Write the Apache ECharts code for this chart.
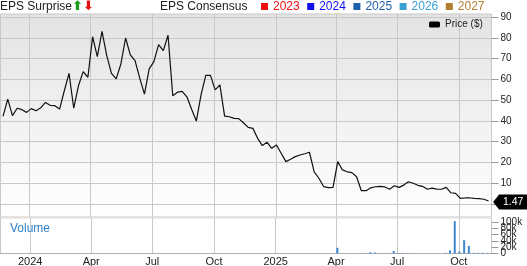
<!DOCTYPE html>
<html><head><meta charset="utf-8">
<script src="https://cdn.jsdelivr.net/npm/echarts@6/dist/echarts.min.js"></script>
<style>html,body{margin:0;padding:0;background:#fff}#c{width:527px;height:266px}</style>
</head><body><div id="c"></div>
<script>
// weekly closes, first week starting 2023-11-23
const startDate = [2023, 10, 23];
const prices = [
  42.2, 50.5, 42.5, 46.1, 45.4, 44.1, 45.9, 44.9, 46.3, 48.9,
  47.5, 47.3, 45.7, 54.5, 62.9, 46.1, 56.9, 63.7, 61.0, 80.5,
  70.9, 83.1, 71.4, 62.9, 60.2, 67.4, 79.9, 71.8, 69.0, 60.6,
  52.9, 65.0, 68.5, 76.7, 73.8, 81.2, 52.1, 53.8, 54.2, 51.6,
  45.6, 39.9, 52.5, 61.9, 61.9, 54.9, 57.3, 42.3, 42.0, 41.2,
  41.1, 39.1, 36.9, 36.4, 31.6, 28.1, 29.7, 26.8, 28.4, 24.4,
  20.4, 21.5, 22.8, 23.6, 24.2, 24.9, 15.5, 12.4, 8.4, 7.9,
  8.0, 20.4, 16.4, 15.5, 15.1, 13.1, 6.4, 6.4, 7.8, 8.3,
  8.5, 8.2, 7.1, 8.8, 8.0, 9.1, 10.7, 10.0, 9.0, 8.5,
  7.1, 7.6, 7.2, 7.1, 8.0, 5.4, 5.1, 2.7, 2.9, 2.9,
  2.7, 2.6, 2.3, 1.47
];
const volumes = [
  0,0,0,0,0,0,0,0,0,0,
  0,0,0,0,0,0,0,0,0,0,
  0,0,0,0,0,0,0,0,0,0,
  0,0,0,0,0,0,0,0,0,0,
  0,0,0,0,0,0,0,0,0,0,
  0,0,0,0,0,0,0,0,0,0,
  0,0,0,0,0,0,0,0,0,0,
  0,18000,0,0,0,0,1000,1000,4000,3000,
  0,1000,1000,8000,1500,1500,1000,0,0,0,
  0,0,0,0,2000,10000,102000,6000,42000,24000,
  2000,2000,2000,2000
];
const consensusYears = ['2023', '2024', '2025', '2026', '2027'];
const consensusColors = ['#f01010', '#1010f0', '#1c5fae', '#3a9fd3', '#b27d2e'];
const monthNames = ['Jan','Feb','Mar','Apr','May','Jun','Jul','Aug','Sep','Oct','Nov','Dec'];

const dates = prices.map((_, i) => new Date(startDate[0], startDate[1], startDate[2] + 7 * i).getTime());
const xMin = new Date(2023, 10, 18, 12).getTime();
const xMax = new Date(2025, 10, 17, 7).getTime();
const volMax = 112000;
const FONT = 'Liberation Sans, Arial, sans-serif';

const chart = echarts.init(document.getElementById('c'), null, {renderer: 'canvas'});

const titles = [
  {left: 0, top: 0, padding: 0,
   text: 'EPS Surprise{u|⬆}{d|⬇}',
   textStyle: {fontSize: 12, fontWeight: 'normal', color: '#222', fontFamily: FONT, lineHeight: 13,
     rich: {u: {color: '#1a9c1a', fontSize: 13, fontWeight: 'bold', fontFamily: 'DejaVu Sans', lineHeight: 13},
            d: {color: '#e01010', fontSize: 13, fontWeight: 'bold', fontFamily: 'DejaVu Sans', lineHeight: 13}}}},
  {left: 160, top: 0, padding: 0, text: 'EPS Consensus',
   textStyle: {fontSize: 12, fontWeight: 'normal', color: '#222', fontFamily: FONT, lineHeight: 13}},
  {left: 10, top: 222, padding: 0, text: 'Volume',
   textStyle: {fontSize: 12, fontWeight: 'normal', color: '#2f80c8', fontFamily: FONT, lineHeight: 14}}
];
consensusYears.forEach((y, i) => {
  titles.push({left: 261 + i * 46.2, top: 0, padding: 0, text: '{b|}{t|' + y + '}',
    textStyle: {fontSize: 12, fontWeight: 'normal', lineHeight: 13, fontFamily: FONT,
      rich: {b: {width: 7, height: 7, backgroundColor: consensusColors[i]},
             t: {color: consensusColors[i], fontSize: 12, fontWeight: 'normal', fontFamily: FONT, padding: [0, 0, 0, 5], lineHeight: 13}}}});
});

const timeLabel = v => { const d = new Date(v); return d.getMonth() === 0 ? String(d.getFullYear()) : monthNames[d.getMonth()]; };
const volLabel = v => v === 0 ? '0' : (v / 1000) + 'k';

const option = {
  animation: false,
  textStyle: {fontFamily: FONT},
  title: titles,
  legend: {data: ['Price ($)'], left: 429, top: 19.5, padding: 0, icon: 'roundRect', itemWidth: 11, itemHeight: 6,
    textStyle: {fontSize: 10, color: '#222', fontFamily: FONT}, itemStyle: {color: '#000'}},
  grid: [
    {left: 0, right: 35.5, top: 14, height: 203, show: true, borderColor: '#c8c8c8', borderWidth: 1,
     outerBoundsMode: 'none',
     backgroundColor: new echarts.graphic.LinearGradient(0, 0, 0, 1, [{offset: 0, color: '#e3e3e3'}, {offset: 1, color: '#ffffff'}])},
    {left: 0, right: 35.5, top: 17, height: 187, outerBoundsMode: 'none'},
    {left: 0, right: 35.5, top: 218, height: 35.5, show: true, borderColor: '#dedede', borderWidth: 1, outerBoundsMode: 'none'}
  ],
  xAxis: [
    {gridIndex: 0, type: 'time', min: xMin, max: xMax, splitNumber: 8,
     axisLine: {show: false}, axisTick: {show: false}, axisLabel: {show: false},
     splitLine: {show: true, lineStyle: {color: '#c8c8c8', width: 1}}},
    {gridIndex: 1, type: 'time', min: xMin, max: xMax, show: false, splitLine: {show: false}},
    {gridIndex: 2, type: 'time', min: xMin, max: xMax, splitNumber: 8,
     axisLine: {show: true, lineStyle: {color: '#b0b0b0'}}, axisTick: {show: false},
     axisLabel: {fontSize: 11, color: '#222', margin: 3, formatter: timeLabel, showMinLabel: false, showMaxLabel: false},
     splitLine: {show: true, lineStyle: {color: '#c8c8c8', width: 1}}}
  ],
  yAxis: [
    {gridIndex: 0, type: 'value', show: false, splitLine: {show: false}},
    {gridIndex: 1, type: 'value', position: 'right', min: 0, max: 90, interval: 10,
     axisLine: {show: false}, axisTick: {show: true, length: 7, lineStyle: {color: '#999'}},
     axisLabel: {fontSize: 10, color: '#222', margin: 9},
     splitLine: {show: true, lineStyle: {color: '#c8c8c8', width: 1}}},
    {gridIndex: 2, type: 'value', position: 'right', min: 0, max: volMax, interval: 20000,
     axisLine: {show: false}, axisTick: {show: true, length: 7, lineStyle: {color: '#999'}},
     axisLabel: {fontSize: 10, color: '#222', margin: 9, showMaxLabel: false, showMinLabel: false, hideOverlap: false,
       formatter: volLabel},
     splitLine: {show: false}},
    {gridIndex: 2, type: 'value', position: 'right', min: 0, max: volMax, interval: volMax,
     axisLine: {show: false}, axisTick: {show: true, length: 7, lineStyle: {color: '#999'}},
     axisLabel: {fontSize: 10, color: '#222', margin: 9, showMaxLabel: false, showMinLabel: true, formatter: volLabel},
     splitLine: {show: false}}
  ],
  series: [
    {name: 'Price ($)', type: 'line', xAxisIndex: 1, yAxisIndex: 1, showSymbol: false,
     data: dates.map((d, i) => [d, prices[i]]),
     lineStyle: {color: '#111', width: 1.2}, itemStyle: {color: '#000'},
     markPoint: {
       symbol: 'path://M0,5 L6,0 L34,0 L34,10 L6,10 Z', symbolSize: [34, 15], symbolOffset: [21.5, 1],
       itemStyle: {color: '#000'},
       label: {show: true, position: 'inside', color: '#fff', fontSize: 10.5, fontFamily: FONT, offset: [3, 0],
         formatter: p => String(p.value)},
       data: [{coord: [dates[dates.length - 1], prices[prices.length - 1]], value: prices[prices.length - 1]}]
     }},
    {name: 'Volume', type: 'bar', xAxisIndex: 2, yAxisIndex: 2, barWidth: 2,
     data: dates.map((d, i) => [d, volumes[i]]),
     itemStyle: {color: '#3f88d3'}}
  ]
};
chart.setOption(option);
</script></body></html>
